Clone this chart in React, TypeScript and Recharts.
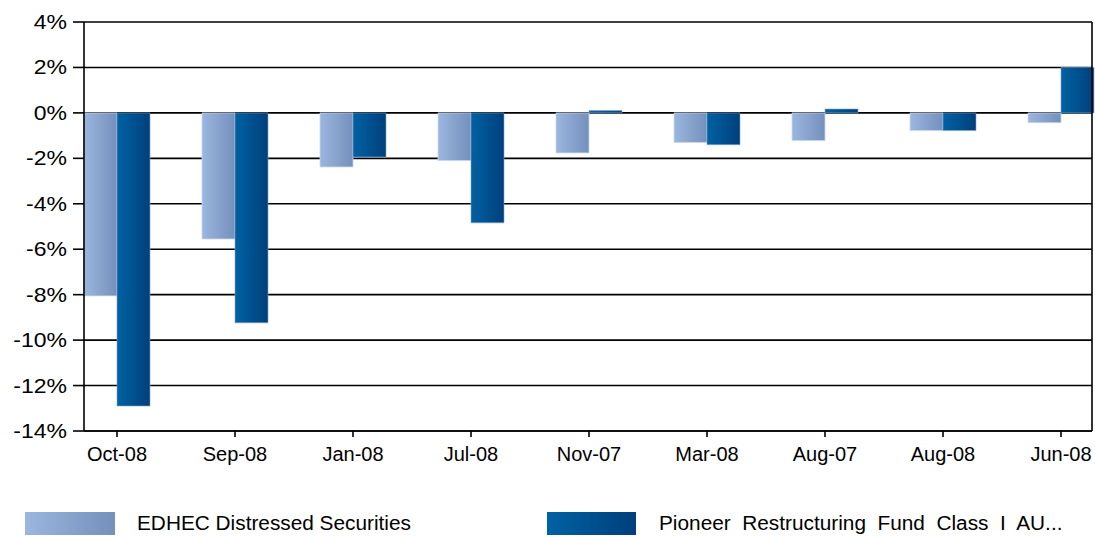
import React from "react";
import {
  BarChart,
  Bar,
  XAxis,
  YAxis,
  CartesianGrid,
} from "recharts";

const categories = ["Oct-08", "Sep-08", "Jan-08", "Jul-08", "Nov-07", "Mar-08", "Aug-07", "Aug-08", "Jun-08"];
const edhec = [-8.05, -5.55, -2.38, -2.1, -1.76, -1.3, -1.22, -0.78, -0.43];
const pioneer = [-12.9, -9.24, -1.94, -4.84, 0.1, -1.4, 0.17, -0.78, 2.0];
const yTicks = [-14, -12, -10, -8, -6, -4, -2, 0, 2, 4];
const seriesNames = ["EDHEC Distressed Securities", "Pioneer  Restructuring  Fund  Class  I  AU..."];

const data = categories.map((c, i) => ({ name: c, edhec: edhec[i], pioneer: pioneer[i] }));

const FONT = "'Liberation Sans', Arial, sans-serif";

const YTick = (props: any) => {
  const { x, y, payload } = props;
  return (
    <text
      transform={`translate(${x},${y}) scale(1.15,1)`}
      textAnchor="end"
      dominantBaseline="central"
      fontFamily={FONT}
      fontSize={20}
      fill="#000"
    >
      {`${payload.value}%`}
    </text>
  );
};

const XTick = (props: any) => {
  const { x, y, payload } = props;
  return (
    <text
      x={x}
      y={y}
      textAnchor="middle"
      dominantBaseline="hanging"
      fontFamily={FONT}
      fontSize={20}
      fill="#000"
    >
      {payload.value}
    </text>
  );
};

export default function App() {
  return (
    <div style={{ position: "absolute", left: 0, top: 0, width: 1095, height: 537, background: "#fff" }}>
      <BarChart
        width={1095}
        height={537}
        data={data}
        margin={{ top: 22, right: 2, left: 0, bottom: 66 }}
        barGap={0}
        barSize={33}
      >
        <defs>
          <linearGradient id="gEdhec" x1="0" y1="0" x2="1" y2="0">
            <stop offset="0%" stopColor="#9bb7df" />
            <stop offset="100%" stopColor="#7490bb" />
          </linearGradient>
          <linearGradient id="gPioneer" x1="0" y1="0" x2="1" y2="0">
            <stop offset="0%" stopColor="#0062a3" />
            <stop offset="100%" stopColor="#003f7c" />
          </linearGradient>
        </defs>
        <CartesianGrid vertical={false} stroke="#000" strokeWidth={1.6} />
        <XAxis
          dataKey="name"
          padding={{ left: -26, right: -28 }}
          axisLine={{ stroke: "#000", strokeWidth: 1.6 }}
          tickLine={{ stroke: "#000", strokeWidth: 1.6 }}
          tickSize={6}
          tickMargin={10}
          height={40}
          tick={<XTick />}
          interval={0}
        />
        <YAxis
          domain={[-14, 4]}
          ticks={yTicks}
          width={84}
          axisLine={{ stroke: "#000", strokeWidth: 1.6 }}
          tickLine={{ stroke: "#000", strokeWidth: 1.6 }}
          tickSize={11}
          tickMargin={6}
          tick={<YTick />}
          interval={0}
        />
        <YAxis
          yAxisId="right"
          orientation="right"
          domain={[-14, 4]}
          ticks={yTicks}
          width={1}
          tick={false}
          tickLine={false}
          axisLine={{ stroke: "#000", strokeWidth: 1.6 }}
        />
        <Bar dataKey="edhec" fill="url(#gEdhec)" stroke="#c9d7ee" strokeWidth={0.8} isAnimationActive={false} />
        <Bar dataKey="pioneer" fill="url(#gPioneer)" stroke="#7fa6cf" strokeWidth={0.6} isAnimationActive={false} />
      </BarChart>
      <div style={{ position: "absolute", left: 25, top: 512, width: 90, height: 23, background: "linear-gradient(to right, #9bb7df, #7490bb)" }} />
      <div
        style={{
          position: "absolute",
          left: 137,
          top: 511,
          fontFamily: FONT,
          fontSize: 20,
          lineHeight: "24px",
          whiteSpace: "pre",
          transform: "scaleX(1.04)",
          transformOrigin: "left center",
          color: "#000",
        }}
      >
        {seriesNames[0]}
      </div>
      <div style={{ position: "absolute", left: 547, top: 512, width: 89, height: 23, background: "linear-gradient(to right, #0062a3, #003f7c)" }} />
      <div
        style={{
          position: "absolute",
          left: 659,
          top: 511,
          fontFamily: FONT,
          fontSize: 20,
          lineHeight: "24px",
          whiteSpace: "pre",
          transform: "scaleX(1.04)",
          transformOrigin: "left center",
          color: "#000",
        }}
      >
        {seriesNames[1]}
      </div>
    </div>
  );
}
